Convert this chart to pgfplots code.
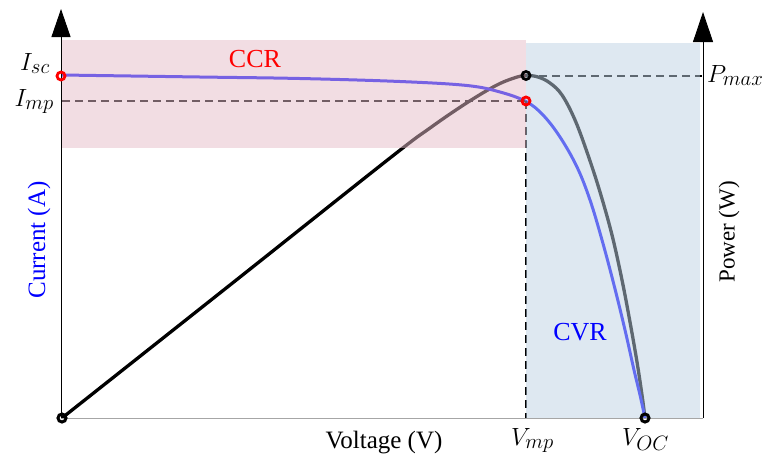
\documentclass[border=0pt]{standalone}
\usepackage{pgfplots}
\pgfplotsset{compat=1.18}
\usetikzlibrary{arrows.meta}
\usepackage{fontspec}
\setmainfont{Liberation Serif}
\definecolor{pinkC}{RGB}{229,187,200}
\definecolor{blueC}{RGB}{189,209,227}
\definecolor{curblue}{RGB}{10,10,255}
\begin{document}
\begin{tikzpicture}
\begin{axis}[
  width=767pt, height=459pt, scale only axis,
  xmin=0, xmax=767, ymin=0, ymax=459, y dir=reverse,
  axis lines=none, clip=false,
]
\path (axis cs:0,0) rectangle (axis cs:767,459);
% power curve (black)
\addplot[black, line width=3.3pt, smooth, tension=0.6] coordinates {
 (62,418) (230,285) (390,158) (430,128) (465,104) (495,86) (514,78) (526,75.5)
 (538,77) (550,83) (562,95) (575,120) (588,155) (600,192) (612,235) (622,280) (630,322) (637,362) (642,395) (645,418)};
% current curve (blue)
\addplot[curblue, line width=3pt, smooth, tension=0.6] coordinates {
 (62,75) (200,77) (300,78.5) (400,81.5) (467,85.5) (500,92) (526,101.5) (543,115) (560,137) (577,167) (590,200) (602,240) (614,285) (625,330) (634,370) (640,395) (645,418)};
% dashed guides
\addplot[black, line width=2pt, dash pattern=on 8pt off 5pt] coordinates {(62,100.5) (526,100.5)};
\addplot[black, line width=2pt, dash pattern=on 8pt off 5pt] coordinates {(526,101) (526,418)};
\addplot[black, line width=2pt, dash pattern=on 8pt off 5pt] coordinates {(526,75.5) (702,75.5)};
% markers under overlay
\addplot[only marks, mark=o, mark size=4pt, red, mark options={line width=2.8pt}] coordinates {(526,101)};
\addplot[only marks, mark=o, mark size=4pt, black, mark options={line width=2.8pt}] coordinates {(526,75.5)};
% overlays
\addplot[fill=pinkC, fill opacity=0.5, draw=none] coordinates {(62,39.5) (526,39.5) (526,147.5) (62,147.5)} -- cycle;
\addplot[fill=blueC, fill opacity=0.5, draw=none] coordinates {(526,42.5) (700,42.5) (700,418) (526,418)} -- cycle;
% axes
\addplot[gray!70, line width=1pt] coordinates {(61,418) (703,418)};
\addplot[black, line width=0.9pt, -{Triangle[length=28pt,width=19pt]}] coordinates {(61,418) (61,9)};
\addplot[black, line width=0.9pt, -{Triangle[length=30pt,width=20pt]}] coordinates {(703,418) (703,12)};
% top markers
\addplot[only marks, mark=o, mark size=4pt, red, mark options={line width=2.8pt, fill=white}] coordinates {(61,76)};
\addplot[only marks, mark=o, mark size=4pt, black, mark options={line width=3pt, fill=white}] coordinates {(62,418) (645,418)};
% texts
\node[anchor=base, red, font=\fontsize{26}{28}\selectfont] at (axis cs:255,67) {CCR};
\node[anchor=base, blue, font=\fontsize{26}{28}\selectfont] at (axis cs:580,340) {CVR};
\node[anchor=base, font=\fontsize{25}{28}\selectfont] at (axis cs:384,448) {Voltage (V)};
\node[rotate=90, blue, font=\fontsize{25}{28}\selectfont] at (axis cs:39,240) {Current (A)};
\node[rotate=90, font=\fontsize{23}{28}\selectfont] at (axis cs:729,232) {Power (W)};
\node[anchor=base east, inner sep=0pt, font=\fontsize{29}{30}\selectfont] at (axis cs:50,70) {$I_{sc}$};
\node[anchor=base east, inner sep=0pt, font=\fontsize{29}{30}\selectfont] at (axis cs:54,106) {$I_{mp}$};
\node[anchor=base west, inner sep=0pt, font=\fontsize{28}{30}\selectfont] at (axis cs:707,82) {$P_{max}$};
\node[anchor=base west, inner sep=0pt, font=\fontsize{28}{30}\selectfont] at (axis cs:511,445) {$V_{mp}$};
\node[anchor=base west, inner sep=0pt, font=\fontsize{28}{30}\selectfont] at (axis cs:622,445) {$V_{OC}$};
\end{axis}
\end{tikzpicture}
\end{document}
